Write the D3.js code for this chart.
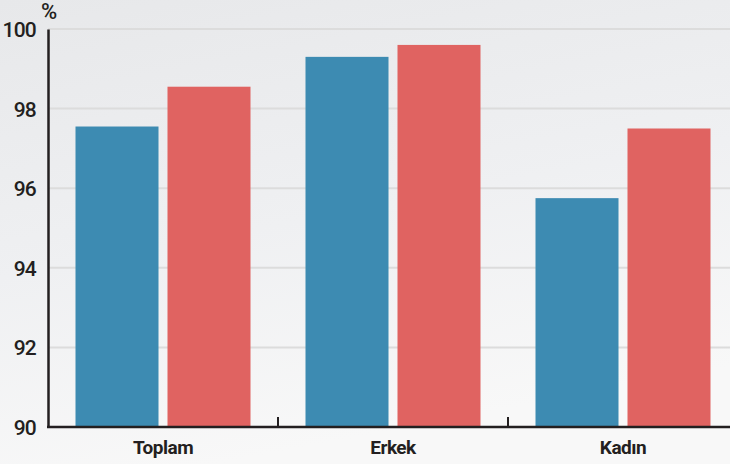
<!DOCTYPE html>
<html><head><meta charset="utf-8">
<script src="https://cdn.jsdelivr.net/npm/d3@7"></script>
<style>
html,body{margin:0;padding:0;background:#fff;}
svg{display:block;}
text{font-family:"Roboto","Liberation Sans",sans-serif;fill:#231f20;}
</style></head><body>
<svg id="chart" width="730" height="464"></svg>
<script>
const categories = ["Toplam", "Erkek", "Kadın"];
const seriesA = [97.55, 99.3, 95.75];
const seriesB = [98.55, 99.6, 97.5];
const yTicks = [90, 92, 94, 96, 98, 100];
const yUnit = "%";

const svg = d3.select("#chart");
const W = 730, H = 464;
const m = {left: 48, right: -8, top: 29, bottom: 37};

const defs = svg.append("defs");
const grad = defs.append("linearGradient").attr("id","bg").attr("x1",0).attr("y1",0).attr("x2",0.3).attr("y2",1);
grad.append("stop").attr("offset","0%").attr("stop-color","#e7e8ea");
grad.append("stop").attr("offset","55%").attr("stop-color","#eff0f2");
grad.append("stop").attr("offset","100%").attr("stop-color","#f8f8f8");
svg.append("rect").attr("width",W).attr("height",H).attr("fill","url(#bg)");

const x = d3.scaleBand().domain(categories).range([m.left, W - m.right]).paddingInner(0).paddingOuter(0);
const y = d3.scaleLinear().domain([90, 100]).range([H - m.bottom, m.top]);

// gridlines
svg.append("g").selectAll("line").data(yTicks.slice(1)).join("line")
  .attr("x1", m.left).attr("x2", W).attr("y1", d => y(d)).attr("y2", d => y(d))
  .attr("stroke", "#dcdcdc").attr("stroke-width", 2);

// bars
const barW = 83, gap = 9;
const groupW = barW * 2 + gap;
const series = [{vals: seriesA, color: "#3d8bb2"}, {vals: seriesB, color: "#e06361"}];
series.forEach((s, si) => {
  svg.append("g").selectAll("rect").data(categories).join("rect")
    .attr("x", (c) => x(c) + (x.bandwidth() - groupW) / 2 + si * (barW + gap))
    .attr("width", barW)
    .attr("y", (c, i) => y(s.vals[i]))
    .attr("height", (c, i) => y(90) - y(s.vals[i]))
    .attr("fill", s.color);
});

// y axis
const yAxis = d3.axisLeft(y).tickValues(yTicks).tickSize(0).tickPadding(12);
const gy = svg.append("g").attr("transform", `translate(${m.left},0)`).call(yAxis);
gy.select(".domain").attr("stroke", "#231f20").attr("stroke-width", 2.5);
gy.selectAll("text").style("font-size", "21px").style("font-weight", "500")
  .style("letter-spacing", "-0.8px").attr("fill", "#231f20").attr("dy", "0.36em");

// x axis
const xAxis = d3.axisBottom(x).tickSize(0).tickPadding(14);
const gx = svg.append("g").attr("transform", `translate(0,${y(90)})`).call(xAxis);
gx.select(".domain").remove();
gx.append("line").attr("x1", m.left - 1).attr("x2", W).attr("y1", 0).attr("y2", 0)
  .attr("stroke", "#231f20").attr("stroke-width", 2.5);
gx.selectAll("text").style("font-size", "19px").style("font-weight", "700")
  .style("letter-spacing", "-0.5px").attr("fill", "#231f20");
// separators between categories
gx.append("g").selectAll("line").data(categories.slice(1)).join("line")
  .attr("x1", d => x(d)).attr("x2", d => x(d)).attr("y1", 0).attr("y2", -10)
  .attr("stroke", "#231f20").attr("stroke-width", 2);

svg.append("text").attr("x", 41).attr("y", 19).text(yUnit)
  .style("font-size", "22px").style("font-weight", "500");
</script>
</body></html>
